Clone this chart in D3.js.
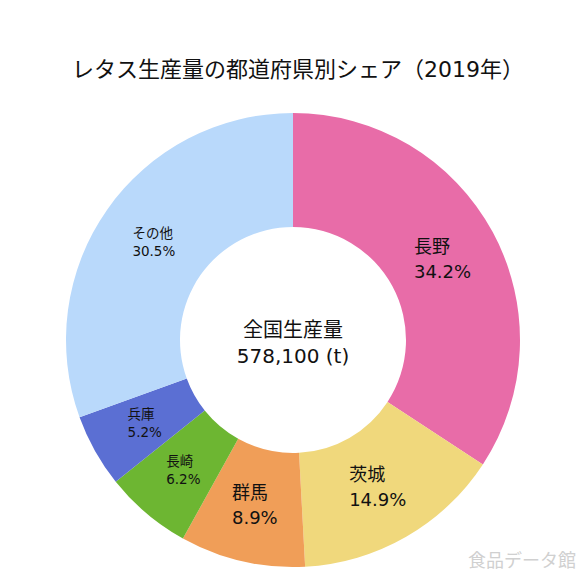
<!DOCTYPE html>
<html>
<head>
<meta charset="utf-8">
<script src="https://cdn.jsdelivr.net/npm/d3@7"></script>
<style>
  body { margin: 0; background: #fff; }
  text { font-family: "DejaVu Sans", "Noto Sans CJK JP", sans-serif; }
</style>
</head>
<body>
<script>
var prefectures = ['長野', '茨城', '群馬', '長崎', '兵庫', 'その他'];
var shares = [34.2, 14.9, 8.9, 6.2, 5.2, 30.5];
var colors = ['#e86ca8', '#f0d87c', '#f09e58', '#6db632', '#5b6fd3', '#b9d9fb'];
var totalLabel = ['全国生産量', '578,100 (t)'];

var width = 586, height = 586;
var cx = 293, cy = 340;
var outer = 227, inner = 113;

var svg = d3.select('body')
  .append('svg')
  .attr('width', width)
  .attr('height', height);

svg.append('text')
  .attr('x', 298)
  .attr('y', 77)
  .attr('text-anchor', 'middle')
  .style('font-size', '22px')
  .attr('fill', '#111')
  .text('レタス生産量の都道府県別シェア（2019年）');

var data = prefectures.map(function(p, i) {
  return { name: p, value: shares[i], color: colors[i], rank: i };
});

var pie = d3.pie().sort(null).value(function(d) { return d.value; });
var arc = d3.arc().innerRadius(inner).outerRadius(outer);

var g = svg.append('g')
  .attr('transform', 'translate(' + cx + ',' + cy + ')');

var arcs = pie(data);

g.selectAll('path')
  .data(arcs)
  .enter()
  .append('path')
  .attr('d', arc)
  .attr('fill', function(d) { return d.data.color; });

// labels: block centred on centroid, lines left aligned
arcs.forEach(function(d) {
  var big = d.data.rank < 3;
  var size = big ? 18 : 13.5;
  var lh = big ? 25 : 18;
  var c = arc.centroid(d);
  var t = g.append('text')
    .style('font-size', size + 'px')
    .attr('fill', '#111');
  var l1 = t.append('tspan').text(d.data.name);
  var l2 = t.append('tspan').text(d.data.value.toFixed(1) + '%');
  var w = Math.max(l1.node().getComputedTextLength(), l2.node().getComputedTextLength());
  var x0 = c[0] - w / 2;
  var y0 = c[1] - lh / 2 + size * 0.35;
  l1.attr('x', x0).attr('y', y0);
  l2.attr('x', x0).attr('y', y0 + lh);
});

g.selectAll('.total')
  .data(totalLabel)
  .enter()
  .append('text')
  .attr('class', 'total')
  .attr('x', 0)
  .attr('y', function(d, i) { return -3 + i * 26; })
  .attr('text-anchor', 'middle')
  .style('font-size', '20px')
  .attr('fill', '#111')
  .text(function(d) { return d; });

svg.append('text')
  .attr('x', 576)
  .attr('y', 567)
  .attr('text-anchor', 'end')
  .style('font-size', '18px')
  .attr('fill', '#d0d0d0')
  .text('食品データ館');
</script>
</body>
</html>
